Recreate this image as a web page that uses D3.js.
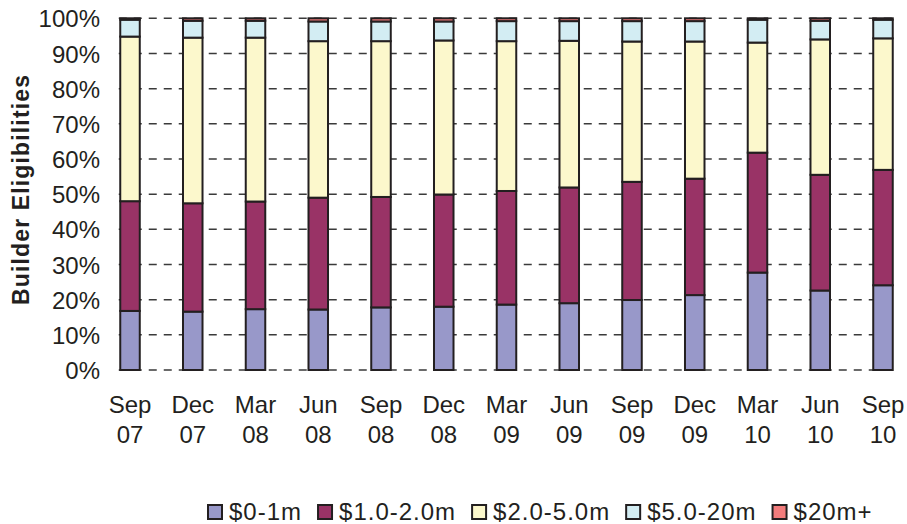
<!DOCTYPE html>
<html>
<head>
<meta charset="utf-8">
<script src="https://cdn.jsdelivr.net/npm/d3@7"></script>
<style>
  html, body { margin: 0; padding: 0; background: #fff; }
  svg { display: block; font-family: "Liberation Sans", Arial, sans-serif; }
</style>
</head>
<body>
<svg id="chart" width="907" height="524"></svg>
<script>
// Quarter labels (two lines each)
const quarters = ["Sep", "Dec", "Mar", "Jun", "Sep", "Dec", "Mar", "Jun", "Sep", "Dec", "Mar", "Jun", "Sep"];
const years    = ["07", "07", "08", "08", "08", "08", "09", "09", "09", "09", "10", "10", "10"];

// Share of builder eligibilities by size band (%)
const band0to1    = [16.8, 16.6, 17.3, 17.2, 17.8, 18.0, 18.6, 19.0, 19.9, 21.3, 27.7, 22.6, 24.1];
const band1to2    = [31.2, 30.8, 30.6, 31.8, 31.4, 31.9, 32.3, 32.9, 33.6, 33.1, 34.1, 32.9, 32.8];
const band2to5    = [46.8, 47.1, 46.6, 44.5, 44.3, 43.8, 42.6, 41.7, 39.9, 39.0, 31.3, 38.5, 37.4];
const band5to20   = [4.8, 4.8, 4.8, 5.6, 5.6, 5.4, 5.7, 5.6, 5.8, 5.8, 6.5, 5.3, 5.3];
const band20plus  = [0.4, 0.7, 0.7, 0.9, 0.9, 0.9, 0.8, 0.8, 0.8, 0.8, 0.4, 0.7, 0.4];

const seriesNames = ["$0-1m", "$1.0-2.0m", "$2.0-5.0m", "$5.0-20m", "$20m+"];
const seriesValues = [band0to1, band1to2, band2to5, band5to20, band20plus];
const seriesColors = ["#9898c9", "#993366", "#fcf8cc", "#d3edf3", "#f27c7c"];

const yTicks = [0, 0.1, 0.2, 0.3, 0.4, 0.5, 0.6, 0.7, 0.8, 0.9, 1.0];

const ink = "#231f20";
const svg = d3.select("#chart");

// Table of rows for the stack layout
const rows = quarters.map((q, i) => {
  const r = { key: i };
  seriesNames.forEach((s, j) => { r[s] = seriesValues[j][i]; });
  return r;
});

const stacked = d3.stack()
  .keys(seriesNames)
  .offset(d3.stackOffsetExpand)(rows);

const x = d3.scaleBand()
  .domain(rows.map(r => r.key))
  .range([120.25, 892.75])
  .paddingInner(0.689)
  .paddingOuter(0);

const y = d3.scaleLinear().domain([0, 1]).range([370, 18.3]);

// Dashed horizontal gridlines
svg.append("g")
  .selectAll("line")
  .data(yTicks)
  .join("line")
  .attr("x1", x.range()[0] - 1.5)
  .attr("x2", x.range()[1] + 1.5)
  .attr("y1", d => y(d))
  .attr("y2", d => y(d))
  .attr("stroke", "#3a3a3a")
  .attr("stroke-width", 1.5)
  .attr("stroke-dasharray", "8,7");

// Y axis tick labels
const yAxis = d3.axisLeft(y)
  .tickValues(yTicks)
  .tickFormat(d3.format(".0%"))
  .tickSize(0)
  .tickPadding(0);

const yAxisG = svg.append("g")
  .attr("transform", "translate(100,0)")
  .call(yAxis);
yAxisG.select(".domain").remove();
yAxisG.selectAll("text")
  .attr("fill", ink)
  .attr("font-size", 24)
  .attr("font-family", "Liberation Sans, Arial, sans-serif")
  .attr("dy", "0.36em");

// Stacked bars
svg.append("g")
  .selectAll("g")
  .data(stacked)
  .join("g")
  .attr("fill", (d, i) => seriesColors[i])
  .selectAll("rect")
  .data(d => d)
  .join("rect")
  .attr("x", d => x(d.data.key))
  .attr("width", x.bandwidth())
  .attr("y", d => y(d[1]))
  .attr("height", d => Math.max(0, y(d[0]) - y(d[1])))
  .attr("stroke", ink)
  .attr("stroke-width", 2);

// Category labels (quarter / year)
const xl = svg.append("g")
  .selectAll("text")
  .data(rows)
  .join("text")
  .attr("x", d => x(d.key) + x.bandwidth() / 2)
  .attr("text-anchor", "middle")
  .attr("font-size", 24)
  .attr("fill", ink);
xl.append("tspan")
  .attr("x", d => x(d.key) + x.bandwidth() / 2)
  .attr("y", 413)
  .text(d => quarters[d.key]);
xl.append("tspan")
  .attr("x", d => x(d.key) + x.bandwidth() / 2)
  .attr("y", 443)
  .text(d => years[d.key]);

// Y axis title
svg.append("text")
  .attr("transform", "translate(29,190) rotate(-90)")
  .attr("text-anchor", "middle")
  .attr("font-size", 23)
  .attr("font-weight", "bold")
  .attr("fill", ink)
  .attr("textLength", 230)
  .attr("lengthAdjust", "spacing")
  .text("Builder Eligibilities");

// Legend
const legend = svg.append("g").attr("transform", "translate(207,0)");
let lx = 0;
seriesNames.forEach((name, i) => {
  const g = legend.append("g").attr("transform", `translate(${lx},0)`);
  g.append("rect")
    .attr("x", 1).attr("y", 505)
    .attr("width", 14).attr("height", 14)
    .attr("fill", seriesColors[i])
    .attr("stroke", ink)
    .attr("stroke-width", 2);
  const t = g.append("text")
    .attr("x", 22).attr("y", 520)
    .attr("font-size", 24)
    .attr("letter-spacing", 1)
    .attr("fill", ink)
    .text(name);
  lx += 22 + t.node().getComputedTextLength() + 15;
});
</script>
</body>
</html>
